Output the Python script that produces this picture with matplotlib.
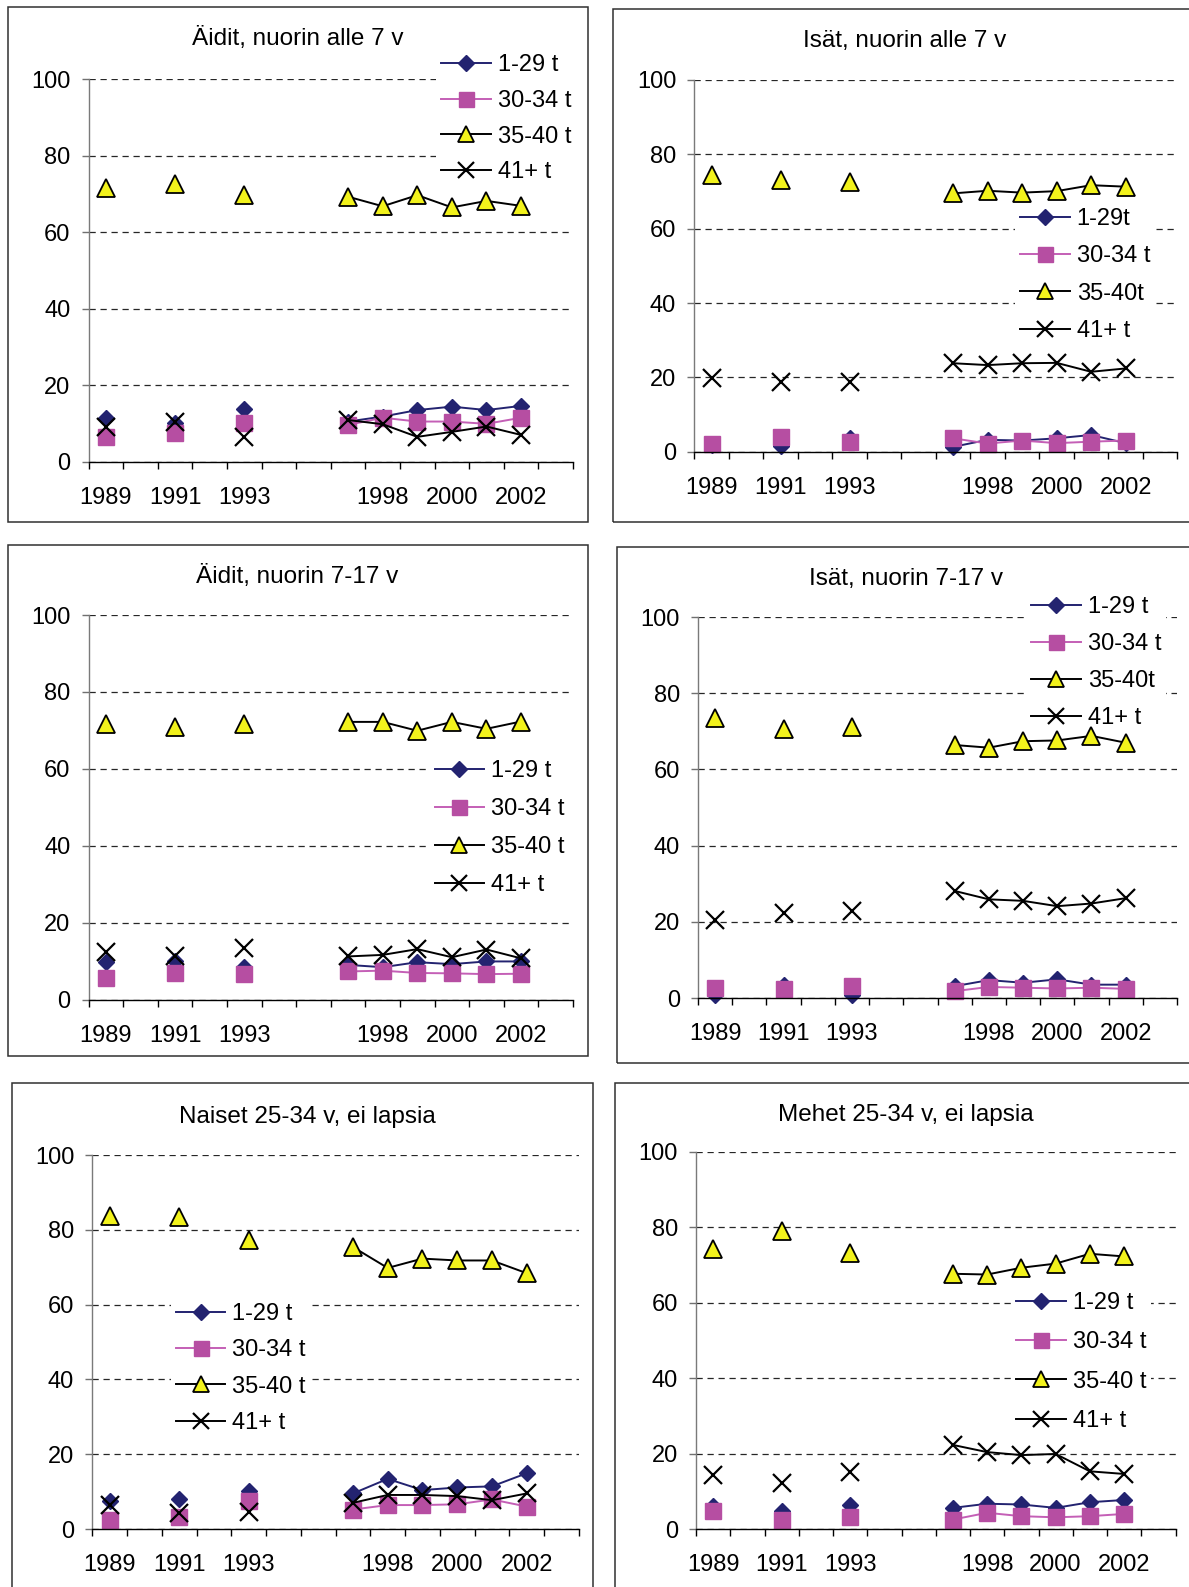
import numpy as np
import matplotlib.pyplot as plt
from matplotlib.patches import Rectangle

plt.rcParams['font.family'] = ['Liberation Sans', 'DejaVu Sans']

n = np.nan
years = ['1989', '1990', '1991', '1992', '1993', '', '', '1997',
         '1998', '1999', '2000', '2001', '2002', '']

# Äidit, nuorin alle 7 v
aidit7_1_29 = [11.3, n, 10.0, n, 13.7, n, n, 10.5, 11.8, 13.5, 14.4, 13.5, 14.6, n]
aidit7_30_34 = [6.5, n, 7.4, n, 10.0, n, n, 9.6, 11.5, 10.5, 10.5, 9.9, 11.5, n]
aidit7_35_40 = [71.7, n, 72.5, n, 69.7, n, n, 69.3, 66.8, 69.7, 66.5, 68.2, 66.9, n]
aidit7_41 = [9.2, n, 10.5, n, 6.5, n, n, 10.9, 9.8, 6.5, 7.8, 9.2, 7.0, n]

# Isät, nuorin alle 7 v
isat7_1_29 = [1.8, n, 1.5, n, 3.8, n, n, 1.3, 3.2, 3.0, 3.6, 4.5, 2.3, n]
isat7_30_34 = [2.1, n, 3.9, n, 2.7, n, n, 3.6, 2.2, 3.0, 2.3, 2.7, 3.0, n]
isat7_35_40 = [74.4, n, 73.1, n, 72.6, n, n, 69.5, 70.2, 69.7, 70.1, 71.7, 71.3, n]
isat7_41 = [19.7, n, 18.8, n, 18.8, n, n, 23.8, 23.3, 23.8, 23.9, 21.5, 22.4, n]

# Äidit, nuorin 7-17 v
aidit17_1_29 = [9.7, n, 10.1, n, 8.4, n, n, 9.0, 8.4, 9.7, 9.2, 9.9, 9.9, n]
aidit17_30_34 = [5.5, n, 6.8, n, 6.7, n, n, 7.3, 7.5, 6.9, 6.8, 6.6, 6.7, n]
aidit17_35_40 = [71.7, n, 71.0, n, 71.7, n, n, 72.2, 72.2, 69.9, 72.2, 70.4, 72.3, n]
aidit17_41 = [12.4, n, 11.2, n, 13.3, n, n, 11.2, 11.6, 13.1, 11.0, 13.0, 10.7, n]

# Isät, nuorin 7-17 v
isat17_1_29 = [0.9, n, 3.5, n, 0.9, n, n, 3.1, 4.7, 4.0, 4.9, 3.5, 3.5, n]
isat17_30_34 = [2.7, n, 2.4, n, 3.1, n, n, 1.8, 2.9, 2.7, 2.5, 2.7, 2.4, n]
isat17_35_40 = [73.6, n, 70.5, n, 71.2, n, n, 66.4, 65.7, 67.4, 67.6, 68.8, 67.0, n]
isat17_41 = [20.4, n, 22.4, n, 22.8, n, n, 28.1, 25.9, 25.5, 24.1, 24.8, 26.2, n]

# Naiset 25-34 v, ei lapsia
naiset_1_29 = [7.5, n, 7.9, n, 10.2, n, n, 9.5, 13.4, 10.4, 11.1, 11.4, 14.9, n]
naiset_30_34 = [2.5, n, 3.2, n, 7.5, n, n, 5.2, 6.4, 6.4, 6.6, 7.9, 6.0, n]
naiset_35_40 = [83.8, n, 83.5, n, 77.3, n, n, 75.4, 69.8, 72.3, 71.8, 71.8, 68.4, n]
naiset_41 = [6.3, n, 4.3, n, 4.5, n, n, 7.0, 9.1, 9.1, 8.8, 7.7, 9.5, n]

# Mehet 25-34 v, ei lapsia
mehet_1_29 = [6.1, n, 4.7, n, 6.3, n, n, 5.6, 6.7, 6.5, 5.6, 7.1, 7.7, n]
mehet_30_34 = [4.7, n, 2.5, n, 3.1, n, n, 2.5, 4.3, 3.4, 3.1, 3.4, 4.0, n]
mehet_35_40 = [74.4, n, 79.0, n, 73.2, n, n, 67.7, 67.5, 69.3, 70.4, 73.0, 72.3, n]
mehet_41 = [14.4, n, 12.3, n, 15.0, n, n, 22.3, 20.4, 19.6, 19.9, 15.3, 14.6, n]

labels_a = ['1-29 t', '30-34 t', '35-40 t', '41+ t']
labels_b = ['1-29t', '30-34 t', '35-40t', '41+ t']
labels_c = ['1-29 t', '30-34 t', '35-40t', '41+ t']

panels = [
    ('Äidit, nuorin alle 7 v', [aidit7_1_29, aidit7_30_34, aidit7_35_40, aidit7_41], labels_a),
    ('Isät, nuorin alle 7 v', [isat7_1_29, isat7_30_34, isat7_35_40, isat7_41], labels_b),
    ('Äidit, nuorin 7-17 v', [aidit17_1_29, aidit17_30_34, aidit17_35_40, aidit17_41], labels_a),
    ('Isät, nuorin 7-17 v', [isat17_1_29, isat17_30_34, isat17_35_40, isat17_41], labels_c),
    ('Naiset 25-34 v, ei lapsia', [naiset_1_29, naiset_30_34, naiset_35_40, naiset_41], labels_a),
    ('Mehet 25-34 v, ei lapsia', [mehet_1_29, mehet_30_34, mehet_35_40, mehet_41], labels_a),
]

# layout in pixels: border box, plot area (x0, x1, y100, y0), title (x, baseline), legend (handle x, first row y, row step)
layout = [
    dict(box=(7.7, 7.3, 587.7, 522), plot=(88.5, 573, 79.3, 461.7), title=(297.5, 45), leg=(441, 65, 35.5)),
    dict(box=(613.2, 9, 1200, 522), plot=(694.3, 1177.4, 80, 451.7), title=(904.7, 46.7), leg=(1020, 219, 37)),
    dict(box=(7.7, 545, 588, 1055.5), plot=(88.5, 573, 615, 999.5), title=(297, 583.3), leg=(434.6, 770.7, 37.8)),
    dict(box=(617, 547, 1200, 1062.6), plot=(698, 1177, 617, 998), title=(906, 584.7), leg=(1031, 607, 36.8)),
    dict(box=(11.5, 1083, 593, 1600), plot=(92.3, 578.8, 1155, 1529), title=(307.7, 1123.2), leg=(175.8, 1314, 36)),
    dict(box=(615, 1083, 1200, 1600), plot=(696, 1175.5, 1152, 1529), title=(905.7, 1120.8), leg=(1016, 1303, 39)),
]

navy = '#232370'
pink_line = '#C45FB6'
pink = '#B64EA2'
yellow = '#F2F21C'

W, H = 1189, 1587
FS = 17
FS_TITLE = 17.5
fs_px = FS / 72 * 100

fig = plt.figure(figsize=(W / 100, H / 100), dpi=100)


def fx(x):
    return x / W


def fy(y):
    return 1 - y / H


x = np.arange(len(years))

for (title, series, labs), lay in zip(panels, layout):
    bx0, by0, bx1, by1 = lay['box']
    fig.add_artist(Rectangle((fx(bx0), fy(by1)), (bx1 - bx0) / W, (by1 - by0) / H,
                             transform=fig.transFigure, fill=False, ec='#303030', lw=1.1))

    px0, px1, y100, y0 = lay['plot']
    ax = fig.add_axes([fx(px0), fy(y0), (px1 - px0) / W, (y0 - y100) / H])

    ax.plot(x, series[0], color=navy, lw=1.4, marker='D', ms=8.5, mfc=navy, mec=navy,
            label=labs[0], clip_on=False)
    ax.plot(x, series[1], color=pink_line, lw=1.4, marker='s', ms=12, mfc=pink, mec=pink,
            label=labs[1], clip_on=False)
    ax.plot(x, series[2], color='black', lw=1.4, marker='^', ms=12.5, mfc=yellow, mec='black',
            mew=1.3, label=labs[2], clip_on=False)
    ax.plot(x, series[3], color='black', lw=1.4, marker='x', ms=12.5, mec='black', mew=1.6,
            label=labs[3], clip_on=False)

    ax.set_xlim(-0.5, len(years) - 0.5)
    ax.set_ylim(0, 100)
    ax.set_xticks(np.arange(-0.5, len(years)))
    ax.set_xticklabels([])
    ax.set_xticks(x[::2], minor=True)
    ax.set_xticklabels(years[::2], minor=True)
    ax.tick_params(axis='x', which='major', length=5, width=1, color='black', direction='out')
    ax.tick_params(axis='x', which='minor', length=0, pad=18, labelsize=FS)
    ax.set_yticks(range(0, 101, 20))
    ax.tick_params(axis='y', length=5, width=1, color='#707070', pad=8, labelsize=FS)

    ax.yaxis.grid(True, linestyle=(0, (5, 3.8)), linewidth=0.9, color='#262626')
    ax.set_axisbelow(True)
    for s in ['top', 'right']:
        ax.spines[s].set_visible(False)
    ax.spines['left'].set_color('#7a7a7a')
    ax.spines['left'].set_linewidth(1.0)
    ax.spines['bottom'].set_color('black')
    ax.spines['bottom'].set_linewidth(1.0)

    tx, ty = lay['title']
    fig.text(fx(tx), fy(ty), title, ha='center', va='baseline', fontsize=FS_TITLE)

    hx, ry, step = lay['leg']
    bp = 0.2
    pad = bp * fs_px
    row_h = 0.92 * fs_px
    leg = ax.legend(loc='upper left', bbox_to_anchor=(fx(hx - pad), fy(ry - row_h / 2 - pad)),
                    bbox_transform=fig.transFigure, fontsize=FS, frameon=True, fancybox=False,
                    facecolor='white', edgecolor='none', framealpha=1, borderpad=bp,
                    borderaxespad=0, handlelength=2.1, handletextpad=0.3,
                    labelspacing=(step - row_h) / fs_px, markerscale=0.9)
    leg.set_zorder(1.5)

fig.savefig('out.png', dpi=100, facecolor='white')
